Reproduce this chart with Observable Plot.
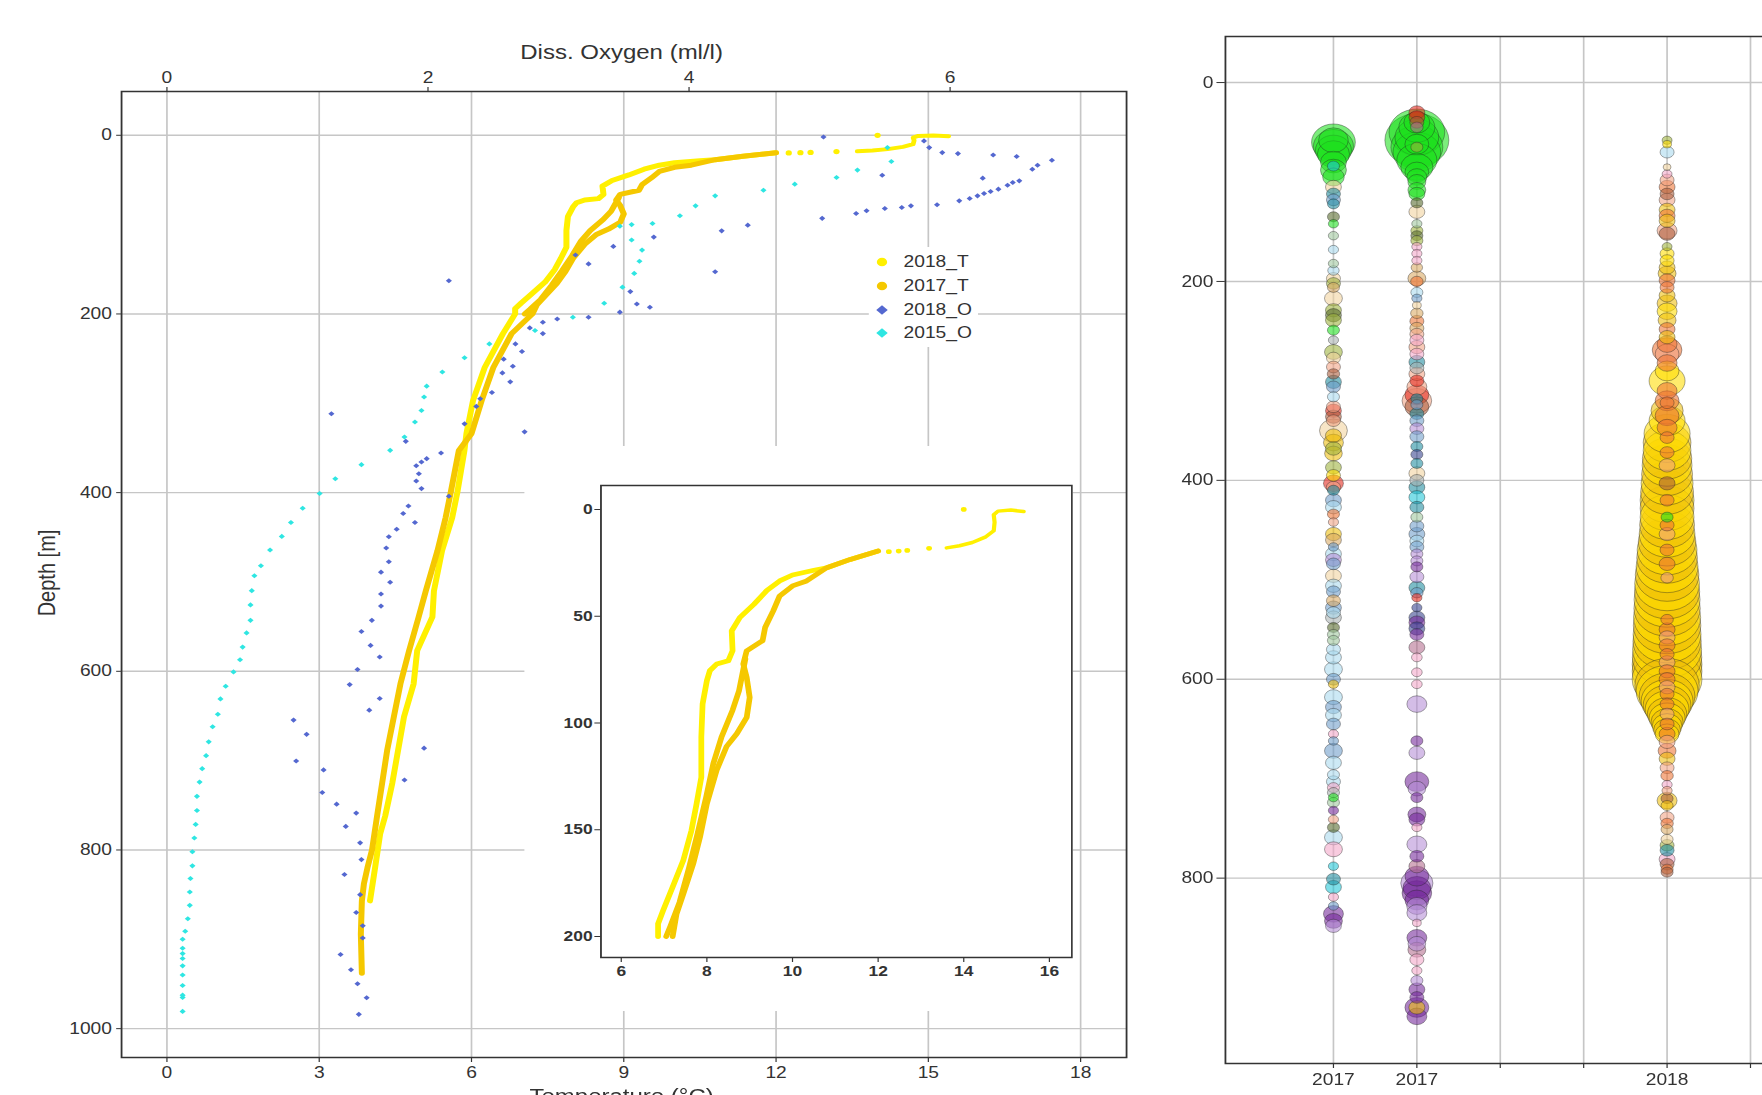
<!DOCTYPE html>
<html><head><meta charset="utf-8">
<script src="https://cdn.jsdelivr.net/npm/d3@7"></script>
<script src="https://cdn.jsdelivr.net/npm/@observablehq/plot@0.6"></script>
<style>
html,body{margin:0;padding:0;background:#fff;}
body{width:1762px;height:1095px;overflow:hidden;position:relative;}
#page{position:absolute;left:0;top:0;width:1468.33px;height:1095px;transform:scaleX(1.2);transform-origin:0 0;font-family:"Liberation Sans",Arial,sans-serif;color:#333;}
#page svg{position:absolute;max-width:none;}
.lbl{position:absolute;white-space:nowrap;font-size:20px;line-height:20px;color:#333;}
.leg{position:absolute;font-size:16px;line-height:18px;color:#333;white-space:nowrap;}
</style></head><body><div id="page"></div>
<script>
// ---------- axis ticks & labels ----------
const tempTicks = [0, 3, 6, 9, 12, 15, 18];
const oxyTicks = [0, 2, 4, 6];
const depthTicks = [0, 200, 400, 600, 800, 1000];
const insetTempTicks = [6, 8, 10, 12, 14, 16];
const insetDepthTicks = [0, 50, 100, 150, 200];
const bubbleDepthTicks = [0, 200, 400, 600, 800];
const stationTicks = [0, 1, 2, 3, 4, 5];
const stationLabels = ["2017", "2017", "", "", "2018", ""];
const seriesNames = ["2018_T", "2017_T", "2018_O", "2015_O"];

// ---------- temperature profiles [°C, depth m] ----------
const t2018Surface = [[15.4,1],[15.1,0.3],[14.8,0.8],[14.7,2.5],[14.72,6],[14.7,10],[14.5,13],[14.2,15.5],[13.9,17],[13.6,18]];
const t2018Dots = [[14.0,0],[13.19,18.2],[12.68,19.2],[12.48,19.5],[12.25,19.8]];
const t2018 = [[12.0,19.5],[11.35,23.4],[10.8,27.3],[10.5,28.5],[10.0,30.7],[9.7,33.5],[9.4,38],[9.1,44.4],[8.77,50.6],[8.58,56.9],[8.6,66.2],[8.5,70.9],[8.23,72.4],[8.07,75.5],[8.0,80.2],[7.9,91],[7.87,106.7],[7.87,125.4],[7.76,137.8],[7.64,150.3],[7.45,164.3],[7.2,176.8],[6.98,187.7],[6.86,194],[6.86,200],
  [6.62,222],[6.26,260],[6.03,297],[5.9,334],[5.86,353],[5.72,400],[5.62,428],[5.42,465],[5.26,510],[5.23,539],[4.93,577],[4.86,614],[4.67,651],[4.44,725],[4.3,762],[4.2,782],[4.1,820],[4.0,857]];
const t2017 = [[12.0,19.5],[11.35,23.4],[10.8,27.3],[10.33,33.5],[10.0,35.8],[9.7,40.5],[9.55,47.5],[9.36,55.3],[9.3,61.5],[8.93,66.2],[8.85,72.4],[8.93,78.7],[9.0,88],[8.93,97.4],[8.7,105],[8.46,111],[8.23,122],[8.0,137.8],[7.84,153.4],[7.68,166],[7.45,180],[7.29,189.5],[7.2,200],
  [6.79,222],[6.43,260],[6.2,297],[6.0,334],[5.75,353],[5.59,400],[5.49,428],[5.33,465],[5.1,510],[4.96,539],[4.77,577],[4.6,614],[4.47,651],[4.34,688],[4.24,725],[4.14,762],[4.04,800],[3.95,820],[3.88,838],[3.84,857],[3.82,894],[3.84,938]];
const t2017Loop = [[8.9,70],[8.75,85],[8.6,94],[8.34,106.7],[8.15,119],[7.98,135],[7.78,152],[7.58,168],[7.36,184],[7.15,195],[7.05,200]];

// ---------- dissolved oxygen [ml/l, depth m] ----------
const o2018 = [[5.03,1.9],[5.80,6.3],[5.84,13.8],[5.94,19.4],[6.06,20.5],[6.33,22],[6.51,23.8],[6.78,27.9],[6.67,33.5],[6.63,38],[6.53,51],[6.48,52.9],[6.44,55.9],[6.37,60.3],[6.31,63],[6.26,65.2],[6.21,67.8],[6.15,70.8],[6.07,73.4],[6.25,48],[5.9,77.8],[5.7,79],[5.63,80.8],[5.5,82],[5.36,84.5],[5.28,87.5],[5.02,93],[5.48,44.7],[4.45,100.6],[4.25,107],[4.2,152.7],[3.73,114],[3.42,124.4],[3.23,144],[3.13,134],[3.55,175],[3.6,188.8],[3.7,192.5],[3.47,198],[3.23,203.7],[2.99,205.6],[2.88,209.3],[2.88,222],[2.78,215.6],[2.67,233.5],[2.72,242],[2.65,258.5],[2.57,266],[2.63,276],
  [2.16,162.8],[2.58,250.6],[2.49,288],[2.4,295],[2.37,303.5],[2.28,323],[2.74,332],[1.26,311.7],[1.83,342.6],[2.1,355.7],[1.99,362],[1.95,365.7],[1.91,370],[1.93,378.8],[1.91,387],[1.95,395.5],[2.16,404],
  [1.85,415],[1.81,423.4],[1.9,433.5],[1.76,441],[1.7,449.4],[1.68,462],[1.7,477.3],[1.64,489],[1.71,500.4],[1.64,513.4],[1.64,527],[1.57,543],[1.49,555.4],[1.56,571],[1.63,584],[1.46,598],[1.4,614.9],[1.63,630.5],[1.55,643.5],[0.97,654.6],[1.07,670.6],[1.97,686],[0.99,700.4],[1.2,710.4],[1.82,721.6],[1.19,735.7],[1.3,748.7],[1.45,758.7],[1.37,773.6],[1.48,792],
  [1.49,810.8],[1.36,827.5],[1.48,850],[1.45,870],[1.5,884.8],[1.5,898.5],[1.33,917],[1.41,934],[1.46,949.8],[1.53,965.4],[1.47,984]];
const o2015 = [[5.52,13.8],[5.55,29.4],[5.29,39],[5.13,47.3],[4.81,54.7],[4.57,61.5],[4.2,67.8],[4.05,79],[3.93,90],[3.72,98.7],[3.56,100],[3.47,101.7],[3.56,117.3],[3.64,128.5],[3.62,141],[3.58,154.6],[3.49,170],[3.35,188],[3.11,203.7],[2.82,218.6],
  [2.47,233.5],[2.28,249],[2.11,265],[1.99,280.8],[1.97,293],[1.95,308],[1.9,321],[1.82,337.8],[1.71,352.7],[1.49,368.7],[1.29,384.4],[1.17,401],
  [1.04,417.5],[0.95,433.5],[0.88,449],[0.79,464.3],[0.72,481.8],[0.67,493],[0.65,509.7],[0.64,525.7],[0.64,543],[0.61,557],[0.58,572.9],[0.56,587],[0.51,600.7],[0.45,616.7],[0.41,630.9],[0.39,648],[0.35,662],[0.32,679],[0.3,694.4],[0.27,709],[0.25,724],[0.23,740],[0.23,755.8],[0.22,771.4],[0.21,786.6],
  [0.195,802],[0.195,817.8],[0.18,832],[0.175,847],[0.175,862],[0.16,877],[0.14,891],[0.12,900],[0.12,910],[0.12,916],[0.12,921.5],[0.12,929.7],[0.12,940],[0.12,951.7],[0.12,962.5],[0.12,965],[0.12,980.7]];

// ---------- bubble columns [depth m, abundance, taxon] ----------
const taxa = ["green","red","gold","yellow","orange","salmon","pink","purple","lavender","lightblue","steel","teal","cyan","olive","sage","beige","darkolive","tan","navy","gray","brown","mauve"];
const bubbles2017a = [[60,37,"green"],[64,31,"green"],[68,25,"green"],[72,20,"green"],[58,17,"green"],[80,13,"green"],[88,13,"green"],[95,9,"green"],[84,2.8,"cyan"],[105,4.9,"beige"],[112,3.8,"teal"],[118,3.8,"steel"],[122,2.8,"teal"],[135,2.8,"darkolive"],[142,2,"green"],[154,2,"sage"],[168,2,"lightblue"],[182,2,"sage"],[189,2.5,"lightblue"],[197,3.8,"beige"],[202,3.8,"olive"],[206,2.8,"tan"],[217,6.2,"beige"],[229,4.9,"olive"],[234,4.9,"darkolive"],[239,4.9,"olive"],[249,2.8,"green"],[259,2,"gray"],[271,6.2,"olive"],[277,3.8,"beige"],[286,3.8,"salmon"],[293,3,"brown"],[301,4.9,"teal"],[306,3.8,"steel"],[316,2.8,"lightblue"],[326,3.8,"salmon"],[330,4.9,"red"],[336,4.9,"brown"],[340,3.8,"salmon"],[350,15,"beige"],[355,5,"gold"],[362,7.7,"gold"],[368,5,"olive"],[373,6,"gold"],[387,4.9,"olive"],[395,3.8,"yellow"],[403,7.7,"red"],[407,4,"salmon"],[410,2.8,"teal"],[420,4.9,"steel"],[427,4.9,"lightblue"],[434,2.8,"orange"],[442,2,"salmon"],[454,4.9,"gold"],[460,4.9,"tan"],[467,2,"steel"],[474,4.9,"lightblue"],[480,4.9,"lavender"],[484,3.8,"steel"],[496,4.9,"beige"],[506,4.9,"lightblue"],[512,3.8,"steel"],[521,3.8,"tan"],[528,4.9,"steel"],[533,3.8,"lightblue"],[538,4.9,"gray"],[548,2.8,"darkolive"],[555,2.8,"sage"],[561,2.8,"sage"],[570,3.8,"lightblue"],[578,4.9,"lightblue"],[590,6.2,"lightblue"],[600,3.8,"steel"],[605,2,"gold"],[618,6.2,"lightblue"],[628,4.9,"steel"],[636,4.9,"lightblue"],[645,3.8,"steel"],[655,2,"pink"],[662,2,"steel"],[672,6.2,"steel"],[684,4.9,"lightblue"],[696,2.8,"lightblue"],[703,3.8,"lightblue"],[709,2.8,"pink"],[714,2.8,"gray"],[719,2,"green"],[724,2.8,"sage"],[732,2,"purple"],[741,2,"salmon"],[749,2.8,"darkolive"],[759,6.2,"lightblue"],[771,6.2,"pink"],[788,2,"cyan"],[801,3.8,"teal"],[809,4.9,"cyan"],[819,2,"pink"],[828,2,"steel"],[836,7.7,"purple"],[843,6.2,"purple"],[848,4.9,"lavender"]];
const bubbles2017b = [[30,4.9,"red"],[35,4.9,"red"],[40,3.8,"brown"],[45,3,"mauve"],[58,79,"green"],[50,60,"green"],[65,52,"green"],[70,44,"green"],[55,37,"green"],[45,25,"green"],[78,31,"green"],[85,20,"green"],[40,13,"green"],[62,11,"green"],[90,11,"green"],[95,7.7,"green"],[100,6.2,"green"],[108,6.2,"green"],[112,4.9,"green"],[65,2.8,"olive"],
  [121,2.8,"darkolive"],[130,4.9,"beige"],[142,2,"sage"],[149,2.8,"olive"],[154,2.8,"darkolive"],[159,2.8,"olive"],[165,2,"pink"],[172,2,"pink"],[179,2,"pink"],[186,2.5,"tan"],[197,6.2,"tan"],[200,3,"orange"],[211,2.8,"lightblue"],[217,2,"steel"],[224,1.5,"beige"],[232,3,"tan"],[240,3.8,"orange"],[247,3.8,"tan"],[253,3.8,"salmon"],[259,3.8,"pink"],[266,4.9,"salmon"],[273,3.8,"pink"],[281,4.9,"teal"],[287,3.8,"gray"],[293,4.9,"salmon"],[300,3.8,"red"],[306,7.7,"salmon"],[314,11,"red"],[320,17,"salmon"],[326,11,"brown"],[318,2.8,"teal"],[324,2.8,"steel"],[333,3.8,"teal"],[340,3.8,"steel"],[348,3.8,"lavender"],[356,3.8,"steel"],[366,2.8,"teal"],[374,2.8,"navy"],[383,2.8,"teal"],[393,4.9,"beige"],[400,3.8,"gray"],[407,4.9,"teal"],[417,4.9,"cyan"],[427,3.8,"teal"],[437,2.8,"sage"],[446,3.8,"steel"],[454,4.9,"steel"],[461,3.8,"lightblue"],[467,3.8,"steel"],[474,2.8,"lavender"],[481,2.8,"lavender"],[487,2.8,"purple"],[497,3.8,"lavender"],[508,4.9,"teal"],[513,3,"steel"],[518,2,"red"],[528,2,"navy"],[538,4.9,"navy"],[543,4.9,"purple"],[549,4.9,"navy"],[555,3.8,"purple"],[568,4.9,"mauve"],[578,2.2,"pink"],[593,2.2,"pink"],[605,2.2,"pink"],[625,7.7,"lavender"],[662,2.8,"purple"],[674,4.9,"lavender"],[703,11,"purple"],[710,6,"lavender"],[719,2.8,"purple"],[736,6.2,"purple"],[741,4.9,"purple"],[749,2,"pink"],[766,7.7,"lavender"],[778,3.8,"purple"],[788,4.9,"mauve"],[798,11,"purple"],[805,20,"lavender"],[810,15,"purple"],[815,17,"purple"],[822,11,"purple"],[828,8,"lavender"],[835,7.7,"lavender"],[845,1.5,"pink"],[860,7.7,"purple"],[866,6,"lavender"],[872,6.2,"mauve"],[882,3.8,"pink"],[893,2,"pink"],[903,2.8,"lavender"],[912,4.9,"purple"],[920,3.8,"purple"],[930,11,"purple"],[930,5,"gold"],[939,7.7,"purple"]];
const bubbles2018 = [[58,1.9,"olive"],[62,1.5,"yellow"],[70,3.8,"lightblue"],[85,1.2,"beige"],[92,1.9,"pink"],[98,3.8,"salmon"],[105,4.9,"orange"],[112,3.8,"brown"],[118,4.9,"salmon"],[128,4.9,"gold"],[134,4.9,"orange"],[139,4.9,"gold"],[149,7.7,"salmon"],[152,4.9,"brown"],[165,1.9,"olive"],[172,3.8,"yellow"],[179,3.8,"yellow"],[186,4.9,"gold"],[192,6.2,"gold"],[199,4.9,"orange"],[206,3.8,"orange"],[214,4.9,"gold"],[222,7.7,"gold"],[230,7.7,"yellow"],[239,6.2,"gold"],[248,4.9,"orange"],[256,4.9,"gold"],[263,7.7,"orange"],[269,17,"orange"],[273,11,"salmon"],[282,7.7,"orange"],[290,11,"yellow"],[300,25,"yellow"],[310,7.7,"orange"],[320,11,"orange"],[330,20,"gold"],[335,11,"orange"],[340,25,"yellow"],[347,7.7,"orange"],
  [353,41,"yellow"],[362,44,"gold"],[370,44,"yellow"],[378,47,"gold"],[385,48,"yellow"],[394,50,"gold"],[403,52,"yellow"],[412,54,"gold"],[420,56,"yellow"],[428,56,"gold"],[437,56,"yellow"],[445,58,"gold"],[454,60,"yellow"],[462,64,"gold"],[470,69,"yellow"],[478,71,"gold"],[487,74,"yellow"],[495,78,"gold"],[504,81,"yellow"],[512,82,"gold"],[520,84,"yellow"],[529,85,"gold"],[538,87,"yellow"],[546,88,"gold"],[555,89,"yellow"],[562,90,"gold"],[570,92,"yellow"],[578,93,"gold"],[585,94,"yellow"],[592,94,"gold"],[600,94,"yellow"],[606,80,"gold"],[612,74,"yellow"],[617,60,"gold"],[622,52,"yellow"],[626,44,"gold"],[630,37,"yellow"],[635,30,"gold"],[639,25,"yellow"],[643,20,"gold"],[647,17,"yellow"],[651,14,"gold"],[655,11,"yellow"],
  [322,3.8,"orange"],[357,3.8,"orange"],[372,3.8,"orange"],[385,4.9,"salmon"],[403,4.9,"brown"],[420,3.8,"orange"],[437,2.8,"green"],[445,3.8,"orange"],[454,4.9,"salmon"],[470,3.8,"orange"],[484,4.9,"orange"],[498,3,"salmon"],[540,3,"orange"],[550,4.9,"orange"],[558,4.9,"salmon"],[566,4.9,"orange"],[575,3.8,"orange"],[583,4.9,"salmon"],[592,4.9,"orange"],[600,4.9,"orange"],[608,4.9,"salmon"],[615,3.8,"orange"],[625,3.8,"orange"],[635,3.8,"salmon"],[645,3.8,"orange"],[655,4.9,"orange"],[663,4.9,"salmon"],[672,6.2,"orange"],[680,4.9,"gold"],[689,3.8,"salmon"],[697,3,"orange"],[706,2,"pink"],[712,2,"salmon"],[720,2.8,"brown"],[722,7.7,"gold"],[727,2.8,"gold"],[739,3.8,"salmon"],[745,3,"orange"],[751,2.8,"tan"],[761,2.8,"beige"],[767,3.8,"olive"],[772,3.8,"teal"],[781,4.9,"pink"],[786,3.8,"brown"],[791,2.8,"orange"],[794,2.8,"brown"]];

// ---------- styles ----------
const FONT = '"Liberation Sans", Arial, sans-serif';
const C18T = "#FFF000", C17T = "#F5C800", C18O = "#5468D0", C15O = "#2EE6E2";
const GRID = "#c6c6c6";
const taxonColors = ["#1EE01E","#E3281C","#EDBE0A","#FFDD00","#EE7433","#F2A283","#F3A5C8","#74289A","#B58DD6","#A9D9EE","#6E9DCA","#1E8C9F","#20C7D8","#9DB13B","#9FC79C","#F1D39C","#56692B","#D9A862","#35418D","#A8B2B2","#A85B3A","#B46D8E"];
const oxyPerTemp = 7 / 18; // top axis: 7 ml/l aligned with 18 °C
const intFmt = d => String(d);

const page = document.getElementById("page");
function place(el, left, top) { el.style.position = "absolute"; el.style.left = left + "px"; el.style.top = top + "px"; page.appendChild(el); return el; }
const lineOpts = (color, w) => ({x: d => d[0], y: d => d[1], stroke: color, strokeWidth: w, strokeLinecap: "round", strokeLinejoin: "round"});
const dotOpts = (color, r) => ({x: d => d[0], y: d => d[1], r, fill: color});

const TX = [-0.894, 18.905];
const DY = [-49, 1032.3];

// ---------- main temperature panel ----------
const tPlot = Plot.plot({
  width: 960, height: 1095, marginLeft: 100.8, marginRight: 21.7, marginTop: 91, marginBottom: 38,
  style: {fontFamily: FONT, fontSize: "16px", background: "white", color: "#333"},
  x: {domain: TX}, y: {domain: DY, reverse: true},
  marks: [
    Plot.gridX(tempTicks, {stroke: GRID, strokeOpacity: 1, strokeWidth: 1.4}),
    Plot.gridY(depthTicks, {stroke: GRID, strokeOpacity: 1, strokeWidth: 1.4}),
    Plot.line(t2018Surface, lineOpts(C18T, 4)),
    Plot.dot(t2018Dots, dotOpts(C18T, 2.6)),
    Plot.line(t2018, lineOpts(C18T, 5)),
    Plot.line(t2017, lineOpts(C17T, 5)),
    Plot.line(t2017Loop, lineOpts(C17T, 5)),
    Plot.frame({stroke: "#333", strokeWidth: 1.5}),
    Plot.axisX(tempTicks, {anchor: "bottom", label: null, tickFormat: intFmt, tickSize: 5, tickPadding: 4, fontSize: 16, color: "#333"}),
    Plot.axisY(depthTicks, {anchor: "left", label: null, tickFormat: intFmt, tickSize: 4, tickPadding: 4, fontSize: 16, color: "#333"})
  ]
});
place(tPlot, 0, 0);

// ---------- oxygen overlay (top axis) ----------
const oPlot = Plot.plot({
  width: 960, height: 1095, marginLeft: 100.8, marginRight: 21.7, marginTop: 91, marginBottom: 38,
  style: {fontFamily: FONT, fontSize: "16px", background: "transparent", color: "#333"},
  x: {domain: TX.map(v => v * oxyPerTemp)}, y: {domain: DY, reverse: true, axis: null},
  marks: [
    Plot.dot(o2018, {x: d => d[0], y: d => d[1], symbol: "diamond2", r: 2.3, fill: C18O}),
    Plot.dot(o2015, {x: d => d[0], y: d => d[1], symbol: "diamond2", r: 2.3, fill: C15O}),
    Plot.axisX(oxyTicks, {anchor: "top", label: null, tickFormat: intFmt, tickSize: 5, tickPadding: 4, fontSize: 16, color: "#333"})
  ]
});
place(oPlot, 0, 0);

// ---------- inset (0-200 m) ----------
const shallow = arr => arr.filter(d => d[1] <= 205);
const inset = Plot.plot({
  width: 457.3, height: 565, marginLeft: 63.3, marginRight: 1.5, marginTop: 39, marginBottom: 54,
  style: {fontFamily: FONT, fontSize: "14.5px", background: "white", color: "#333"},
  x: {domain: [5.526, 16.527]}, y: {domain: [-11.2, 209.8], reverse: true},
  marks: [
    Plot.line(t2018Surface, lineOpts(C18T, 3.5)),
    Plot.dot(t2018Dots, dotOpts(C18T, 2.4)),
    Plot.line(shallow(t2018), lineOpts(C18T, 4.8)),
    Plot.line(shallow(t2017), lineOpts(C17T, 4.8)),
    Plot.line(shallow(t2017Loop), lineOpts(C17T, 4.8)),
    Plot.frame({stroke: "#333", strokeWidth: 1.5}),
    Plot.axisX(insetTempTicks, {anchor: "bottom", label: null, tickFormat: intFmt, tickSize: 5, tickPadding: 3, fontSize: 14.5, fontWeight: "bold", color: "#333"}),
    Plot.axisY(insetDepthTicks, {anchor: "left", label: null, tickFormat: intFmt, tickSize: 5, tickPadding: 2, fontSize: 14.5, fontWeight: "bold", color: "#333"})
  ]
});
place(inset, 436.7, 446);

// ---------- legend ----------
const legend = document.createElement("div");
legend.style.cssText = "position:absolute;left:724.4px;top:247px;width:91px;height:100px;background:#fff;";
const legColors = [C18T, C17T, C18O, C15O];
seriesNames.forEach((name, i) => {
  const cy = 15.3 + i * 23.7;
  const ns = "http://www.w3.org/2000/svg";
  const s = document.createElementNS(ns, "svg");
  s.setAttribute("width", 14); s.setAttribute("height", 14);
  s.style.cssText = `position:absolute;left:${10.6 - 7}px;top:${cy - 7}px;`;
  let shape;
  if (i < 2) { shape = document.createElementNS(ns, "circle"); shape.setAttribute("cx", 7); shape.setAttribute("cy", 7); shape.setAttribute("r", 4.3); }
  else { shape = document.createElementNS(ns, "path"); shape.setAttribute("d", "M7,2.2L11.8,7L7,11.8L2.2,7Z"); }
  shape.setAttribute("fill", legColors[i]);
  s.appendChild(shape);
  legend.appendChild(s);
  const t = document.createElement("div");
  t.className = "leg"; t.textContent = name;
  t.style.left = "28.6px"; t.style.top = (cy - 9) + "px";
  legend.appendChild(t);
});
page.appendChild(legend);

// ---------- axis titles ----------
function label(text, left, top, extra) {
  const d = document.createElement("div");
  d.className = "lbl"; d.textContent = text;
  d.style.left = left + "px"; d.style.top = top + "px";
  d.style.transform = extra;
  page.appendChild(d);
}
label("Diss. Oxygen (ml/l)", 518, 42.4, "translateX(-50%)");
label("Temperature (°C)", 518, 1085.5, "translateX(-50%)");
label("Depth [m]", 39.2, 573, "translate(-50%,-50%) rotate(-90deg)");

// ---------- bubble panel ----------
const bubbles = [
  ...bubbles2017a.map(d => ({station: 0, depth: d[0], abundance: d[1], taxon: d[2]})),
  ...bubbles2017b.map(d => ({station: 1, depth: d[0], abundance: d[1], taxon: d[2]})),
  ...bubbles2018.map(d => ({station: 4, depth: d[0], abundance: d[1], taxon: d[2]}))
].sort((a, b) => b.abundance - a.abundance);

const right = Plot.plot({
  width: 620, height: 1095, marginLeft: 70.7, marginRight: 7.5, marginTop: 36, marginBottom: 32,
  style: {fontFamily: FONT, fontSize: "16px", background: "transparent", color: "#333"},
  x: {domain: [-1.295, 6.5]}, y: {domain: [-46.3, 986.4], reverse: true},
  r: {type: "sqrt", domain: [0, 100], range: [0, 30]},
  color: {domain: taxa, range: taxonColors},
  marks: [
    Plot.gridX(stationTicks, {stroke: GRID, strokeOpacity: 1, strokeWidth: 1.4}),
    Plot.gridY(bubbleDepthTicks, {stroke: GRID, strokeOpacity: 1, strokeWidth: 1.4}),
    Plot.dot(bubbles, {x: "station", y: "depth", r: "abundance", fill: "taxon", fillOpacity: 0.58, stroke: "#222", strokeOpacity: 0.5, strokeWidth: 0.7}),
    Plot.frame({stroke: "#333", strokeWidth: 1.5}),
    Plot.axisX(stationTicks, {anchor: "bottom", label: null, tickFormat: i => stationLabels[i], tickSize: 5, tickPadding: 5, fontSize: 16, color: "#333"}),
    Plot.axisY(bubbleDepthTicks, {anchor: "left", label: null, tickFormat: intFmt, tickSize: 7, tickPadding: 3, fontSize: 16, color: "#333"})
  ]
});
place(right, 950, 0);
</script></body></html>
